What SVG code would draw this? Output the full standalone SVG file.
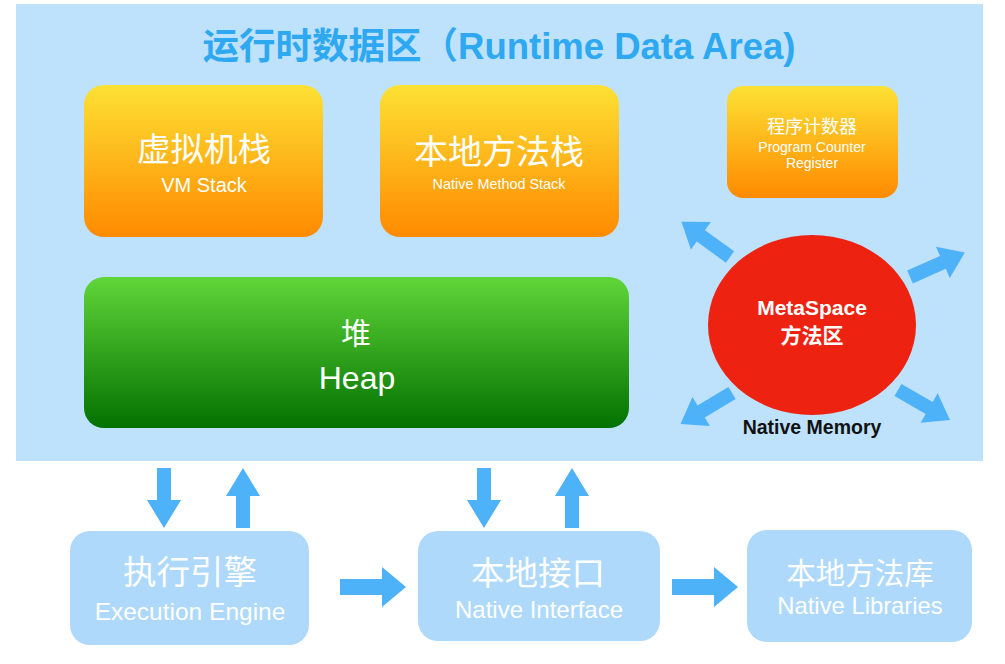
<svg xmlns="http://www.w3.org/2000/svg" xmlns:xlink="http://www.w3.org/1999/xlink" width="1005" height="664" viewBox="0 0 1005 664">
<defs>
<linearGradient id="gOrange" x1="0" y1="0" x2="0" y2="1">
<stop offset="0" stop-color="#fde134"/>
<stop offset="1" stop-color="#ff8a00"/>
</linearGradient>
<linearGradient id="gGreen" x1="0" y1="0" x2="0" y2="1">
<stop offset="0" stop-color="#60d63a"/>
<stop offset="1" stop-color="#027100"/>
</linearGradient>
<path id="aDiag" d="M0,-7 H36 V-17 L60,0 L36,17 V7 H0 Z"/>
<path id="aVert" d="M-7,0 V32 H-17 L0,60 L17,32 H7 V0 Z"/>
<path id="aHorz" d="M0,-8 H42 V-20 L66,0 L42,20 V8 H0 Z"/>
<style>
.t{font-family:"Liberation Sans","Noto Sans CJK SC",sans-serif;text-anchor:middle;dominant-baseline:central;fill:#fff}
.b{font-weight:bold}
.arrow{fill:#4db2f8}
.box{fill:#aed9fb}
</style>
</defs>
<rect x="0" y="0" width="1005" height="664" fill="#fff"/>
<g id="runtime-data-area">
<rect x="16" y="4" width="967" height="457" fill="#bee1fc"/>
<text class="t b" x="499" y="46" font-size="36.5" style="fill:#2ea9f1">运行时数据区（Runtime Data Area)</text>
</g>
<g id="vm-stack">
<rect x="84" y="85" width="239" height="152" rx="20" fill="url(#gOrange)"/>
<text class="t" x="204" y="149" font-size="33.5">虚拟机栈</text>
<text class="t" x="204" y="185" font-size="20">VM Stack</text>
</g>
<g id="native-method-stack">
<rect x="380" y="85" width="239" height="152" rx="20" fill="url(#gOrange)"/>
<text class="t" x="499" y="152" font-size="34">本地方法栈</text>
<text class="t" x="499" y="184" font-size="14.4">Native Method Stack</text>
</g>
<g id="program-counter">
<rect x="727" y="86" width="171" height="112" rx="16" fill="url(#gOrange)"/>
<text class="t" x="812" y="127" font-size="18">程序计数器</text>
<text class="t" x="812" y="147" font-size="14">Program Counter</text>
<text class="t" x="812" y="163" font-size="14">Register</text>
</g>
<g id="heap">
<rect x="84" y="277" width="545" height="151" rx="20" fill="url(#gGreen)"/>
<text class="t" x="356" y="333" font-size="30">堆</text>
<text class="t" x="357" y="378" font-size="32">Heap</text>
</g>
<g id="metaspace">
<ellipse cx="812" cy="325" rx="104" ry="90" fill="#ee2211"/>
<text class="t b" x="812" y="307" font-size="21">MetaSpace</text>
<text class="t b" x="812" y="335" font-size="21">方法区</text>
<text class="t b" x="812" y="427" font-size="19.5" style="fill:#111">Native Memory</text>
</g>
<g id="execution-engine">
<rect x="70" y="531" width="239" height="114" rx="20" class="box"/>
<text class="t" x="190" y="572" font-size="33.5">执行引擎</text>
<text class="t" x="190" y="611" font-size="24.5">Execution Engine</text>
</g>
<g id="native-interface">
<rect x="418" y="531" width="242" height="110" rx="20" class="box"/>
<text class="t" x="538" y="573" font-size="33.5">本地接口</text>
<text class="t" x="539" y="609" font-size="24">Native Interface</text>
</g>
<g id="native-libraries">
<rect x="747" y="530" width="225" height="112" rx="20" class="box"/>
<text class="t" x="860" y="573" font-size="29.5">本地方法库</text>
<text class="t" x="860" y="605" font-size="23.8">Native Libraries</text>
</g>
<g id="connectors" class="arrow">
<use xlink:href="#aDiag" transform="translate(730,257) rotate(-144)"/>
<use xlink:href="#aDiag" transform="translate(910,277) rotate(-24)"/>
<use xlink:href="#aDiag" transform="translate(732,393) rotate(149)"/>
<use xlink:href="#aDiag" transform="translate(898,390) rotate(30)"/>
<use xlink:href="#aVert" transform="translate(164,468)"/>
<use xlink:href="#aVert" transform="translate(243,528) rotate(180)"/>
<use xlink:href="#aVert" transform="translate(484,468)"/>
<use xlink:href="#aVert" transform="translate(572,528) rotate(180)"/>
<use xlink:href="#aHorz" transform="translate(340,587)"/>
<use xlink:href="#aHorz" transform="translate(672,587)"/>
</g>
</svg>
